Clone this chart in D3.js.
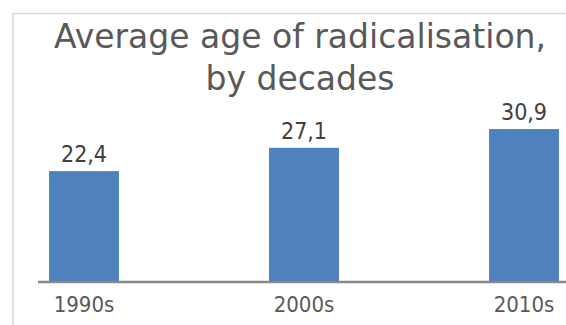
<!DOCTYPE html>
<html>
<head>
<meta charset="utf-8">
<script src="https://cdn.jsdelivr.net/npm/d3@7"></script>
<style>
html,body{margin:0;padding:0;background:#fff;}
svg{display:block;}
text{font-family:"DejaVu Sans Condensed","DejaVu Sans",sans-serif;}
</style>
</head>
<body>
<svg id="chart" width="566" height="325"></svg>
<script>
const categories = ["1990s", "2000s", "2010s"];
const values = [22.4, 27.1, 30.9];
const valueLabels = ["22,4", "27,1", "30,9"];
const titleLines = ["Average age of radicalisation,", "by decades"];

const svg = d3.select("#chart");
const W = 566, H = 325;

// chart frame (cropped)
svg.append("path")
  .attr("d", `M13,${H} V13.5 H${W}`)
  .attr("fill", "none").attr("stroke", "#d9d9d9").attr("stroke-width", 1.5);

// title
svg.append("text")
  .attr("x", 300).attr("y", 48)
  .attr("text-anchor", "middle")
  .style("font-family", "'DejaVu Sans', sans-serif")
  .attr("font-size", 33).attr("fill", "#595959")
  .selectAll("tspan").data(titleLines).join("tspan")
  .attr("x", 300).attr("dy", (d, i) => i === 0 ? 0 : 42)
  .text(d => d);

const baseY = 282;
const x = d3.scaleBand().domain(categories).range([-26, 634])
  .paddingInner(0.682).paddingOuter(0.341);
const y = d3.scaleLinear().domain([0, 35]).range([baseY, baseY - 35 * 4.95]);

svg.append("g").selectAll("rect").data(values).join("rect")
  .attr("x", (d, i) => x(categories[i]))
  .attr("width", x.bandwidth())
  .attr("y", d => y(d))
  .attr("height", d => baseY - y(d))
  .attr("fill", "#4f81bd");

svg.append("g").selectAll("text").data(values).join("text")
  .attr("x", (d, i) => x(categories[i]) + x.bandwidth() / 2)
  .attr("y", d => y(d) - 9)
  .attr("text-anchor", "middle")
  .attr("font-size", 23).attr("fill", "#404040")
  .text((d, i) => valueLabels[i]);

const axis = d3.axisBottom(x).tickSize(0).tickPadding(14);
const gx = svg.append("g").attr("transform", `translate(0,${baseY})`).call(axis);
gx.select(".domain").remove();
gx.append("line").attr("x1", 38).attr("x2", W).attr("y1", 0).attr("y2", 0)
  .attr("stroke", "#898989").attr("stroke-width", 2.5);
gx.selectAll(".tick text")
  .attr("font-family", "DejaVu Sans Condensed, DejaVu Sans, sans-serif")
  .attr("font-size", 22).attr("fill", "#595959");
</script>
</body>
</html>
